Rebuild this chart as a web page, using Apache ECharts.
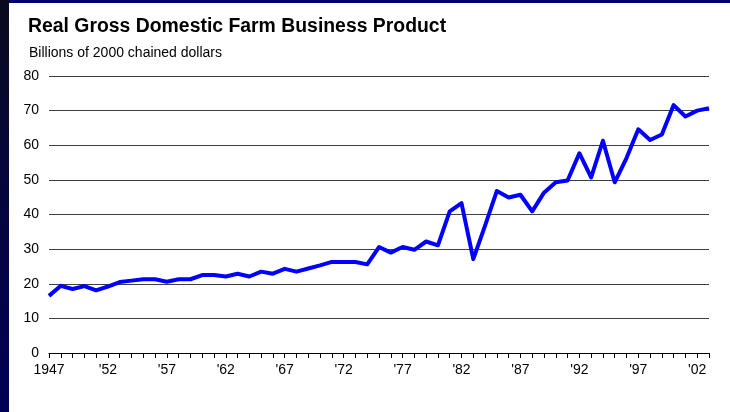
<!DOCTYPE html>
<html>
<head>
<meta charset="utf-8">
<script src="https://cdn.jsdelivr.net/npm/echarts@6/dist/echarts.min.js"></script>
<style>
  html, body { margin: 0; padding: 0; width: 730px; height: 412px; overflow: hidden; background: #000066; }
  #strip { position: absolute; left: 0; top: 0; width: 9px; height: 412px;
    background: linear-gradient(to bottom, #0a0a1c 0%, #06063a 40%, #000055 100%); }
  #chart { position: absolute; left: 9px; top: 3px; width: 721px; height: 409px; background: #ffffff; }
</style>
</head>
<body>
<div id="strip"></div>
<div id="chart"></div>
<script>
const years = [];
for (let y = 1947; y <= 2003; y++) years.push(y);
const values = [
  16.5, 19.4, 18.5, 19.3, 18.1, 19.2, 20.5, 20.9, 21.3, 21.3,
  20.6, 21.3, 21.3, 22.5, 22.5, 22.1, 22.9, 22.1, 23.5, 22.9,
  24.3, 23.5, 24.4, 25.3, 26.3, 26.3, 26.3, 25.6, 30.6, 29.0,
  30.6, 29.8, 32.2, 31.1, 40.9, 43.3, 27.1, 36.8, 46.8, 44.9,
  45.7, 40.9, 46.3, 49.3, 49.8, 57.7, 50.7, 61.3, 49.3, 56.3,
  64.6, 61.5, 63.1, 71.6, 68.3, 70.0, 70.7
];
const yTicks = { min: 0, max: 80, interval: 10 };
const titleText = 'Real Gross Domestic Farm Business Product';
const subtitleText = 'Billions of 2000 chained dollars';

const chart = echarts.init(document.getElementById('chart'), null, { renderer: 'canvas' });
chart.setOption({
  animation: false,
  backgroundColor: '#ffffff',
  title: [
    { text: titleText, left: 14, top: 9,
      textStyle: { fontFamily: 'Liberation Sans, Arial, sans-serif', fontSize: 19.4, fontWeight: 'bold', color: '#000' } },
    { text: subtitleText, left: 15, top: 38,
      textStyle: { fontFamily: 'Liberation Sans, Arial, sans-serif', fontSize: 14, fontWeight: 'normal', color: '#000' } }
  ],
  grid: { left: 40, right: 21, top: 73, bottom: 59, containLabel: false },
  xAxis: {
    type: 'category',
    data: years,
    boundaryGap: false,
    axisLine: { show: true, lineStyle: { color: '#000', width: 1 } },
    axisTick: { show: true, interval: 0, length: 5, lineStyle: { color: '#000', width: 1 } },
    axisLabel: {
      interval: 4, margin: 10, color: '#000',
      fontFamily: 'Liberation Sans, Arial, sans-serif', fontSize: 14,
      formatter: function (v) { v = String(v); return v === '1947' ? v : "'" + v.slice(2); }
    },
    splitLine: { show: false }
  },
  yAxis: {
    type: 'value',
    min: yTicks.min, max: yTicks.max, interval: yTicks.interval,
    axisLine: { show: false },
    axisTick: { show: false },
    axisLabel: { margin: 10, color: '#000', fontFamily: 'Liberation Sans, Arial, sans-serif', fontSize: 14 },
    splitLine: { show: true, lineStyle: { color: '#404040', width: 1 } }
  },
  series: [{
    type: 'line',
    data: values,
    showSymbol: false,
    symbol: 'none',
    lineStyle: { color: '#0000ff', width: 4, join: 'round' },
    z: 5
  }]
});
</script>
</body>
</html>
